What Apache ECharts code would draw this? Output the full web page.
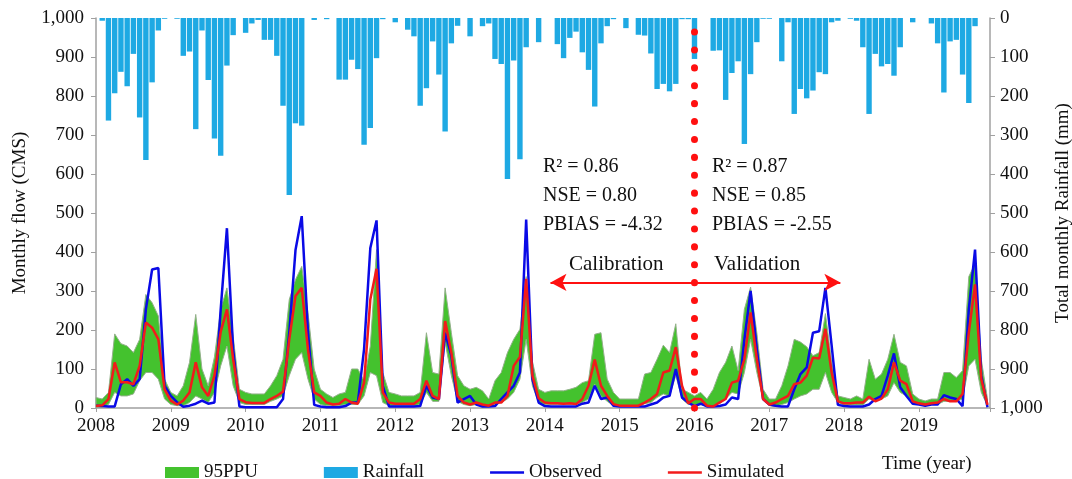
<!DOCTYPE html>
<html>
<head>
<meta charset="utf-8">
<script src="https://cdn.jsdelivr.net/npm/echarts@6/dist/echarts.min.js"></script>
<style>
  html, body { margin: 0; padding: 0; background: #fff; }
  #main { width: 1072px; height: 479px; }
</style>
</head>
<body>
<div id="main"></div>
<script>
// month index 0 = Jan 2008 ... 143 = Dec 2019
var startYear = 2008;

var rainfall = [
  0, 7, 263, 193, 138, 175, 92, 255, 364, 165, 32, 2,
  0, 2, 97, 86, 285, 32, 159, 309, 353, 122, 44, 0,
  38, 14, 5, 56, 56, 97, 225, 454, 270, 276, 0, 5,
  0, 3, 0, 158, 158, 107, 131, 325, 282, 103, 3, 0,
  11, 0, 30, 47, 225, 180, 60, 145, 291, 65, 20, 0,
  47, 0, 21, 14, 105, 118, 413, 109, 362, 75, 0, 62,
  0, 0, 67, 103, 51, 35, 88, 133, 227, 65, 21, 3,
  0, 26, 0, 43, 45, 91, 182, 169, 188, 169, 3, 3,
  105, 0, 0, 84, 83, 210, 141, 111, 323, 144, 62, 2,
  2, 0, 111, 11, 246, 182, 206, 186, 139, 144, 11, 7,
  0, 2, 7, 75, 246, 92, 124, 118, 148, 75, 0, 11,
  0, 0, 14, 65, 191, 60, 56, 145, 218, 21, 0, 0
];

var observed = [
  6, 5, 4, 4, 61, 74, 57, 74, 253, 355, 359, 57,
  31, 15, 3, 6, 11, 19, 11, 14, 253, 461, 150, 4,
  2, 2, 2, 2, 2, 2, 23, 194, 405, 492, 195, 8,
  4, 2, 2, 2, 5, 14, 14, 151, 410, 481, 57, 4,
  4, 4, 4, 4, 5, 57, 27, 23, 193, 134, 14, 23,
  31, 9, 4, 4, 5, 23, 40, 57, 91, 483, 74, 14,
  5, 4, 4, 4, 4, 4, 11, 14, 57, 23, 27, 6,
  4, 4, 4, 4, 4, 9, 14, 27, 31, 100, 27, 14,
  5, 11, 4, 4, 5, 9, 27, 23, 176, 300, 151, 23,
  9, 6, 4, 4, 48, 87, 104, 193, 197, 308, 160, 8,
  5, 4, 4, 4, 9, 23, 31, 83, 140, 53, 31, 11,
  9, 6, 9, 9, 33, 27, 23, 5, 253, 406, 83, 2
];

var simulated = [
  5, 7, 23, 117, 66, 66, 61, 108, 219, 206, 176, 48,
  19, 9, 19, 40, 117, 53, 31, 83, 195, 253, 125, 23,
  15, 13, 13, 13, 23, 31, 42, 176, 287, 308, 150, 40,
  31, 14, 9, 11, 23, 14, 11, 65, 278, 357, 40, 14,
  11, 11, 11, 11, 23, 70, 31, 23, 223, 142, 31, 14,
  9, 14, 9, 6, 14, 14, 31, 108, 131, 331, 83, 25,
  14, 12, 12, 11, 12, 10, 23, 57, 124, 57, 31, 10,
  6, 6, 6, 6, 14, 23, 36, 91, 96, 156, 57, 12,
  23, 23, 6, 4, 14, 23, 65, 70, 125, 245, 125, 23,
  9, 14, 23, 31, 61, 65, 83, 129, 127, 203, 91, 17,
  12, 12, 14, 14, 29, 17, 24, 48, 117, 70, 61, 17,
  12, 9, 12, 14, 23, 17, 17, 36, 193, 317, 74, 8
];

// 95PPU band
var ppuUpper = [
  27, 23, 40, 190, 165, 159, 142, 176, 291, 270, 236, 74,
  40, 31, 57, 117, 240, 100, 57, 131, 253, 308, 184, 48,
  40, 36, 36, 36, 57, 83, 125, 278, 329, 363, 245, 100,
  48, 36, 27, 36, 40, 100, 100, 70, 159, 406, 91, 40,
  36, 31, 31, 31, 40, 193, 91, 87, 308, 193, 83, 57,
  48, 53, 44, 23, 70, 91, 142, 176, 202, 337, 120, 48,
  40, 44, 44, 44, 48, 53, 65, 70, 189, 193, 74, 40,
  23, 23, 23, 23, 87, 91, 125, 161, 142, 216, 48, 40,
  31, 40, 23, 48, 91, 117, 159, 96, 253, 310, 193, 48,
  23, 23, 57, 108, 176, 169, 157, 134, 142, 242, 117, 31,
  27, 23, 31, 23, 125, 74, 87, 125, 189, 117, 108, 36,
  23, 18, 23, 23, 91, 91, 78, 96, 337, 370, 125, 23
];

var ppuLower = [
  2, 2, 9, 40, 31, 31, 36, 70, 91, 91, 74, 23,
  9, 6, 6, 14, 31, 23, 14, 40, 108, 159, 57, 14,
  9, 9, 9, 9, 17, 23, 31, 83, 125, 142, 74, 23,
  9, 6, 6, 6, 9, 9, 9, 31, 91, 83, 14, 6,
  6, 6, 6, 6, 9, 40, 17, 17, 168, 83, 17, 9,
  6, 9, 6, 4, 9, 14, 23, 40, 74, 176, 57, 14,
  9, 9, 9, 9, 9, 9, 14, 23, 61, 31, 17, 6,
  4, 4, 4, 4, 11, 14, 27, 36, 31, 83, 23, 9,
  9, 9, 4, 5, 11, 23, 40, 36, 91, 176, 91, 23,
  6, 4, 9, 14, 23, 31, 36, 48, 48, 91, 40, 14,
  8, 8, 8, 8, 23, 17, 23, 31, 65, 40, 31, 14,
  9, 9, 9, 9, 17, 17, 17, 23, 108, 125, 40, 5
];

var splitMonth = 96;      // Jan 2016: calibration / validation
var arrowLevel = 322;     // flow value of the arrows
var arrowLeft = 72.9;
var arrowRight = 119.4;
var dotsTop = 1000;

function pairs(arr) {
  return arr.map(function (v, i) { return [i, v]; });
}

var fontFamily = '"Liberation Serif", "Times New Roman", serif';
var axisGray = '#a0a0a0';
var lineIcon = 'path://M0,0H40V3H0Z';

var dom = document.getElementById('main');
var myChart = echarts.init(dom, null, { renderer: 'canvas' });

var option = {
  animation: false,
  textStyle: { fontFamily: fontFamily },
  grid: { left: 96, right: 82, top: 18, bottom: 71, containLabel: false, outerBoundsMode: 'none' },
  legend: {
    left: 160,
    top: 458,
    itemGap: 66,
    itemWidth: 34,
    itemHeight: 11,
    textStyle: { fontFamily: fontFamily, fontSize: 19, color: '#111' },
    data: [
      { name: '95PPU', icon: 'rect' },
      { name: 'Rainfall', icon: 'rect' },
      { name: 'Observed', icon: lineIcon },
      { name: 'Simulated', icon: lineIcon }
    ]
  },
  xAxis: {
    type: 'value',
    min: 0,
    max: 143.4,
    interval: 12,
    axisLine: { lineStyle: { color: axisGray, width: 1.5 } },
    axisTick: { show: true, length: 4, lineStyle: { color: axisGray } },
    splitLine: { show: false },
    axisLabel: {
      color: '#111',
      fontSize: 19,
      margin: 9,
      formatter: function (v) {
        return v % 12 === 0 ? String(startYear + v / 12) : '';
      }
    }
  },
  yAxis: [
    {
      type: 'value',
      min: 0,
      max: 1000,
      interval: 100,
      name: 'Monthly flow (CMS)',
      nameLocation: 'middle',
      nameGap: 66,
      nameTextStyle: { fontSize: 19, color: '#111', fontFamily: fontFamily },
      axisLine: { show: true, lineStyle: { color: axisGray, width: 1.5 } },
      axisTick: { show: true, length: 5, lineStyle: { color: axisGray } },
      splitLine: { show: false },
      axisLabel: {
        color: '#111',
        fontSize: 19,
        margin: 12,
        formatter: function (v) { return v.toLocaleString('en-US'); }
      }
    },
    {
      type: 'value',
      position: 'right',
      inverse: true,
      min: 0,
      max: 1000,
      interval: 100,
      name: 'Total monthly Rainfall (mm)',
      nameLocation: 'middle',
      nameGap: 64,
      nameRotate: 90,
      nameTextStyle: { fontSize: 19, color: '#111', fontFamily: fontFamily },
      axisLine: { show: true, lineStyle: { color: axisGray, width: 1.5 } },
      axisTick: { show: true, length: 5, lineStyle: { color: axisGray } },
      splitLine: { show: false },
      axisLabel: {
        color: '#111',
        fontSize: 19,
        margin: 10,
        formatter: function (v) { return v.toLocaleString('en-US'); }
      }
    }
  ],
  series: [
    {
      name: 'Rainfall',
      type: 'bar',
      yAxisIndex: 1,
      barWidth: 5.4,
      itemStyle: { color: '#1ea9e3' },
      data: pairs(rainfall)
    },
    {
      name: '95PPU',
      type: 'custom',
      itemStyle: { color: '#44c22e' },
      encode: { x: 0, y: [1, 2] },
      data: ppuUpper.map(function (v, i) { return [i, ppuLower[i], v]; }),
      renderItem: function (params, api) {
        if (params.dataIndex !== 0) return null;
        var pts = [];
        for (var i = 0; i < ppuUpper.length; i++) {
          pts.push(api.coord([i, ppuUpper[i]]));
        }
        for (var j = ppuLower.length - 1; j >= 0; j--) {
          pts.push(api.coord([j, ppuLower[j]]));
        }
        return {
          type: 'polygon',
          shape: { points: pts },
          style: { fill: '#44c22e', stroke: '#93b08a', lineWidth: 1 }
        };
      }
    },
    {
      name: 'Observed',
      type: 'line',
      symbol: 'none',
      color: '#0a0ae6',
      lineStyle: { color: '#0a0ae6', width: 2.5 },
      data: pairs(observed)
    },
    {
      name: 'Simulated',
      type: 'line',
      symbol: 'none',
      color: '#f21b1b',
      lineStyle: { color: '#f21b1b', width: 2.5 },
      data: pairs(simulated),
      markLine: {
        silent: true,
        symbol: ['none', 'none'],
        label: { show: false },
        data: [
          [
            { coord: [splitMonth, 0], lineStyle: { color: '#ff1010', width: 7, type: [0.1, 17.8], cap: 'round' } },
            { coord: [splitMonth, dotsTop] }
          ],
          [
            { coord: [splitMonth, arrowLevel], symbol: 'none', lineStyle: { color: '#ff1010', width: 1.8, type: 'solid' } },
            { coord: [arrowLeft, arrowLevel], symbol: 'arrow', symbolSize: [13, 16] }
          ],
          [
            { coord: [splitMonth, arrowLevel], symbol: 'none', lineStyle: { color: '#ff1010', width: 1.8, type: 'solid' } },
            { coord: [arrowRight, arrowLevel], symbol: 'arrow', symbolSize: [13, 16] }
          ]
        ]
      }
    }
  ],
  graphic: [
    { type: 'text', left: 543, top: 152, style: { text: 'R² = 0.86\nNSE = 0.80\nPBIAS = -4.32', font: '20px ' + fontFamily, fill: '#111', lineHeight: 29 } },
    { type: 'text', left: 712, top: 152, style: { text: 'R² = 0.87\nNSE = 0.85\nPBIAS = -2.55', font: '20px ' + fontFamily, fill: '#111', lineHeight: 29 } },
    { type: 'text', left: 569, top: 254, style: { text: 'Calibration', font: '21px ' + fontFamily, fill: '#111' } },
    { type: 'text', left: 714, top: 254, style: { text: 'Validation', font: '21px ' + fontFamily, fill: '#111' } },
    { type: 'text', left: 882, top: 455, style: { text: 'Time (year)', font: '19px ' + fontFamily, fill: '#111' } }
  ]
};

if (option && typeof option === 'object') {
  myChart.setOption(option);
}

window.addEventListener('resize', myChart.resize);
</script>
</body>
</html>
